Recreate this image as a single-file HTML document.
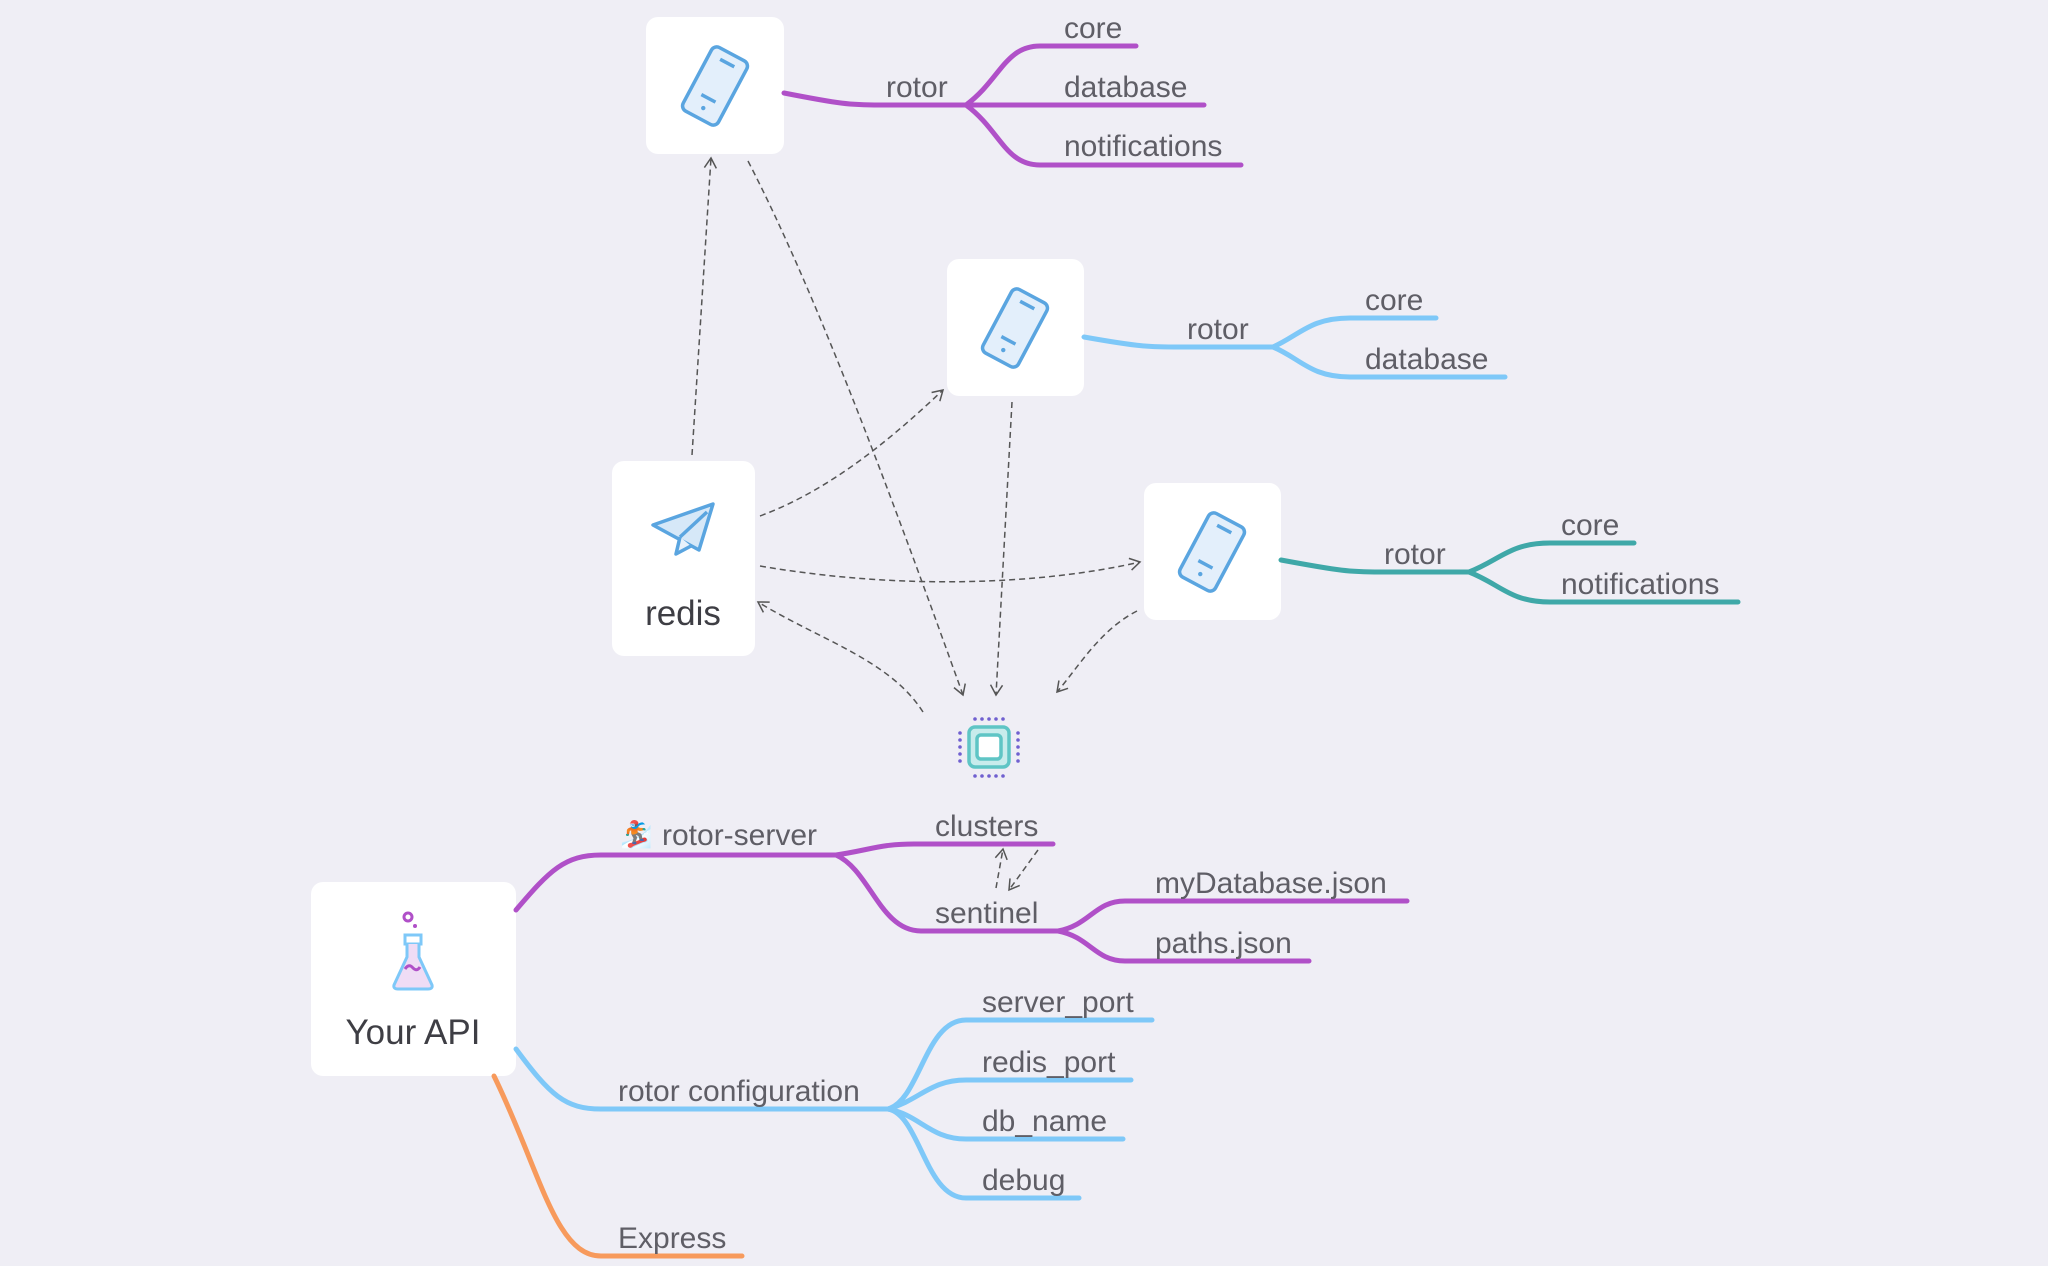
<!DOCTYPE html>
<html><head><meta charset="utf-8"><style>
html,body{margin:0;padding:0;background:#efeef5;}
svg{display:block}
text{font-family:"Liberation Sans",sans-serif;fill:#5f5e66;font-size:30px}
</style></head><body>
<svg width="2048" height="1266" viewBox="0 0 2048 1266" xmlns="http://www.w3.org/2000/svg">
<defs>
<marker id="ah" markerWidth="14" markerHeight="14" refX="11" refY="7" orient="auto" markerUnits="userSpaceOnUse">
<path d="M1,1 L11,7 L1,13" fill="none" stroke="#555" stroke-width="1.5"/>
</marker>
<g id="phone">
<g transform="rotate(28)">
<rect x="-20" y="-36" width="40" height="72" rx="6" fill="#e3effb" stroke="#5aa5e0" stroke-width="3.5"/>
<line x1="-8" y1="-26" x2="8" y2="-26" stroke="#5aa5e0" stroke-width="3.5"/>
<line x1="-8" y1="14" x2="8" y2="14" stroke="#5aa5e0" stroke-width="3.5"/>
<circle cx="0" cy="25" r="2.2" fill="#5aa5e0"/>
</g>
</g>
</defs>
<rect width="2048" height="1266" fill="#efeef5"/>

<!-- Nodes -->
<rect x="646" y="17" width="138" height="137" rx="12" fill="#fff"/>
<use href="#phone" x="715" y="86"/>
<rect x="947" y="259" width="137" height="137" rx="12" fill="#fff"/>
<use href="#phone" x="1015" y="328"/>
<rect x="1144" y="483" width="137" height="137" rx="12" fill="#fff"/>
<use href="#phone" x="1212" y="552"/>
<rect x="612" y="461" width="143" height="195" rx="12" fill="#fff"/>
<g transform="translate(683,528)" stroke="#5aa5e0" stroke-width="3.5" stroke-linejoin="round" fill="#d6e8f8">
<path d="M-30,-3 L30,-24 L16,22 Z"/>
<path d="M-3,9 L-7,26 L8,18" fill="#e8f2fb"/>
<path d="M-3,9 L24,-16" fill="none"/>
</g>
<text x="683" y="625" text-anchor="middle" style="font-size:35px;fill:#3e3e44">redis</text>

<rect x="311" y="882" width="205" height="194" rx="12" fill="#fff"/>
<g transform="translate(413,955)">
<circle cx="-5" cy="-38" r="4" fill="none" stroke="#b050c8" stroke-width="3"/>
<circle cx="2" cy="-29" r="2" fill="#b050c8"/>
<rect x="-8" y="-20" width="16" height="9" fill="none" stroke="#7ec8f8" stroke-width="3"/>
<path d="M-6,-11 L-6,2 L-19,30 Q-20,34 -15,34 L15,34 Q20,34 19,30 L6,2 L6,-11" fill="#efdcf5" stroke="#7ec8f8" stroke-width="3"/>
<path d="M-8,14 Q-4,8 0,13 Q4,17 7,12" fill="none" stroke="#b050c8" stroke-width="3"/>
</g>
<text x="413" y="1044" text-anchor="middle" style="font-size:35px;fill:#3e3e44">Your API</text>

<!-- chip -->
<g transform="translate(989,747)">
<rect x="-20" y="-20" width="40" height="40" rx="6" fill="#c8ecec" stroke="#5fc5c5" stroke-width="3.5"/>
<rect x="-12" y="-12" width="24" height="24" rx="4" fill="#fff" stroke="#5fc5c5" stroke-width="3.5"/>
<g fill="#7060d0">
<circle cx="-14" cy="-28" r="1.8"/><circle cx="-7" cy="-28" r="1.8"/><circle cx="0" cy="-28" r="1.8"/><circle cx="7" cy="-28" r="1.8"/><circle cx="14" cy="-28" r="1.8"/>
<circle cx="-14" cy="29" r="1.8"/><circle cx="-7" cy="29" r="1.8"/><circle cx="0" cy="29" r="1.8"/><circle cx="7" cy="29" r="1.8"/><circle cx="14" cy="29" r="1.8"/>
<circle cx="-29" cy="-14" r="1.8"/><circle cx="-29" cy="-7" r="1.8"/><circle cx="-29" cy="0" r="1.8"/><circle cx="-29" cy="7" r="1.8"/><circle cx="-29" cy="14" r="1.8"/>
<circle cx="29" cy="-14" r="1.8"/><circle cx="29" cy="-7" r="1.8"/><circle cx="29" cy="0" r="1.8"/><circle cx="29" cy="7" r="1.8"/><circle cx="29" cy="14" r="1.8"/>
</g>
</g>

<!-- branches -->
<g fill="none" stroke-width="5" stroke-linecap="round">
<g stroke="#b050c8">
<path d="M784,93 C840,104 850,105 880,105 L966,105"/>
<path d="M966,105 C1000,80 1005,46 1040,46 L1136,46"/>
<path d="M966,105 L1204,105"/>
<path d="M966,105 C1000,130 1005,165 1040,165 L1241,165"/>
</g>
<g stroke="#7ec8f8">
<path d="M1084,337 C1140,347 1150,347 1180,347 L1273,347"/>
<path d="M1273,347 C1300,335 1310,318 1350,318 L1436,318"/>
<path d="M1273,347 C1300,358 1310,377 1350,377 L1505,377"/>
</g>
<g stroke="#3fa8a8">
<path d="M1281,560 C1340,571 1350,572 1380,572 L1469,572"/>
<path d="M1469,572 C1500,560 1510,543 1550,543 L1634,543"/>
<path d="M1469,572 C1500,584 1510,602 1550,602 L1738,602"/>
</g>
<g stroke="#b050c8">
<path d="M516,910 C550,870 565,855 601,855 L836,855"/>
<path d="M836,855 C870,850 880,844 914,844 L1053,844"/>
<path d="M836,855 C870,870 880,931 921,931 L1058,931"/>
<path d="M1058,931 C1090,925 1095,901 1125,901 L1407,901"/>
<path d="M1058,931 C1090,937 1095,961 1125,961 L1309,961"/>
</g>
<g stroke="#7ec8f8">
<path d="M516,1049 C550,1095 565,1109 601,1109 L888,1109"/>
<path d="M888,1109 C920,1100 925,1020 966,1020 L1152,1020"/>
<path d="M888,1109 C920,1100 930,1080 966,1080 L1131,1080"/>
<path d="M888,1109 C920,1115 930,1139 966,1139 L1123,1139"/>
<path d="M888,1109 C920,1115 925,1198 966,1198 L1079,1198"/>
</g>
<g stroke="#f79a5c">
<path d="M494,1076 C540,1170 555,1256 601,1256 L742,1256"/>
</g>
</g>

<!-- labels -->
<text x="886" y="97">rotor</text>
<text x="1064" y="38">core</text>
<text x="1064" y="97">database</text>
<text x="1064" y="156">notifications</text>
<text x="1187" y="339">rotor</text>
<text x="1365" y="310">core</text>
<text x="1365" y="369">database</text>
<text x="1384" y="564">rotor</text>
<text x="1561" y="535">core</text>
<text x="1561" y="594">notifications</text>
<text x="662" y="845">rotor-server</text>
<text x="620" y="843" style="font-size:26px">🏂</text>
<text x="935" y="836">clusters</text>
<text x="935" y="923">sentinel</text>
<text x="1155" y="893">myDatabase.json</text>
<text x="1155" y="953">paths.json</text>
<text x="618" y="1101">rotor configuration</text>
<text x="982" y="1012">server_port</text>
<text x="982" y="1072">redis_port</text>
<text x="982" y="1131">db_name</text>
<text x="982" y="1190">debug</text>
<text x="618" y="1248">Express</text>

<!-- dashed connectors -->
<g fill="none" stroke="#555" stroke-width="1.5" stroke-dasharray="6,4" marker-end="url(#ah)">
<path d="M692,455 L711,158"/>
<path d="M748,161 C820,300 900,520 963,695"/>
<path d="M760,516 C830,490 890,440 943,390"/>
<path d="M760,566 C900,590 1040,585 1140,562"/>
<path d="M1012,402 L996,695"/>
<path d="M1137,611 C1100,630 1080,665 1057,692"/>
<path d="M923,712 C890,660 820,640 758,602"/>
<path d="M996,888 L1003,849"/>
<path d="M1038,850 L1009,890"/>
</g>
</svg>
</body></html>
